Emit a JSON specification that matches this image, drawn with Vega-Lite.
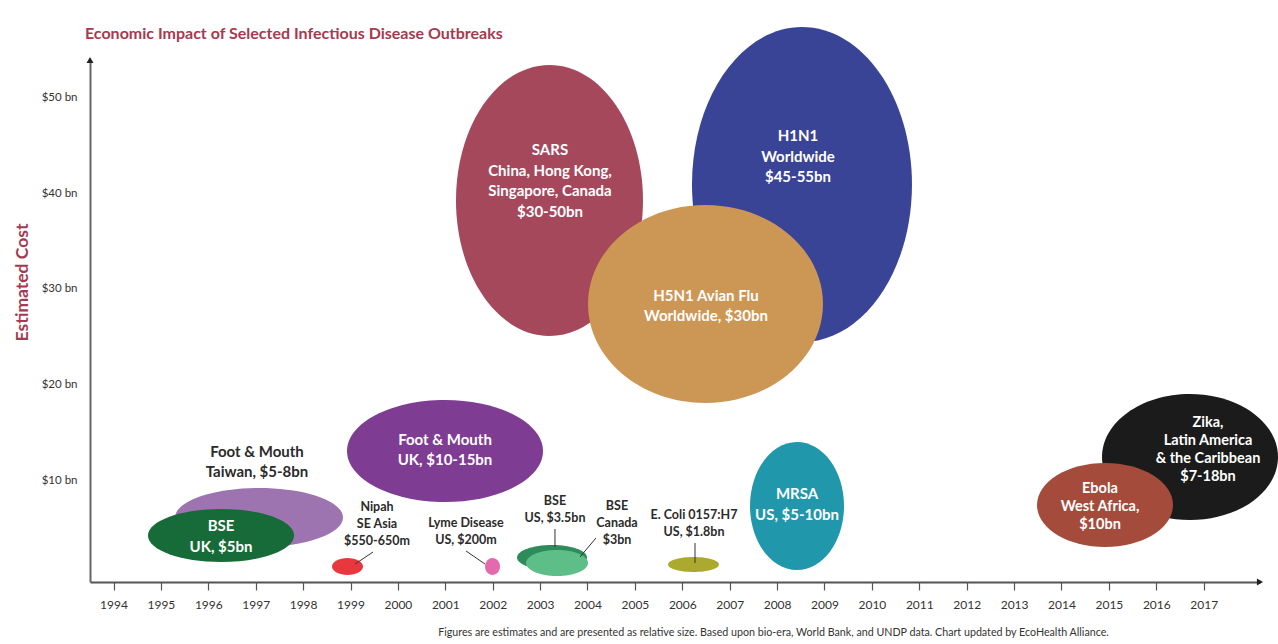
{
  "$schema": "https://vega.github.io/schema/vega-lite/v6.json",
  "width": 1170,
  "height": 522,
  "autosize": {"type": "none"},
  "padding": {"left": 90, "top": 60, "right": 18, "bottom": 62},
  "background": "white",
  "title": {
    "text": "Economic Impact of Selected Infectious Disease Outbreaks",
    "anchor": "start",
    "frame": "group",
    "font": "Lato",
    "fontSize": 16,
    "fontWeight": "bold",
    "color": "#A53A50",
    "offset": -15,
    "dx": -5
  },
  "config": {"view": {"stroke": null}, "font": "Lato"},
  "datasets": {
    "outbreaks": [
      {"outbreak": "Foot & Mouth Taiwan", "year": 1997.07, "cost": 6.07, "label": "Foot & Mouth\nTaiwan, $5-8bn", "label_year": 1997.027, "label_cost": 12.93},
      {"outbreak": "BSE UK", "year": 1996.268, "cost": 4.19, "label": "BSE\nUK, $5bn", "label_year": 1996.268, "label_cost": 5.18},
      {"outbreak": "Foot & Mouth UK", "year": 2000.994, "cost": 13.04, "label": "Foot & Mouth\nUK, $10-15bn", "label_year": 2000.994, "label_cost": 14.19},
      {"outbreak": "Nipah", "year": 1998.937, "cost": 0.94, "label": "Nipah\nSE Asia\n$550-650m", "label_year": 1999.559, "label_cost": 7.17},
      {"outbreak": "Lyme Disease", "year": 2001.996, "cost": 0.94, "label": "Lyme Disease\nUS, $200m", "label_year": 2001.437, "label_cost": 5.5},
      {"outbreak": "BSE US", "year": 2003.251, "cost": 1.88, "label": "BSE\nUS, $3.5bn", "label_year": 2003.314, "label_cost": 7.8},
      {"outbreak": "BSE Canada", "year": 2003.357, "cost": 1.31, "label": "BSE\nCanada\n$3bn", "label_year": 2004.622, "label_cost": 7.28},
      {"outbreak": "E. Coli 0157:H7", "year": 2006.236, "cost": 1.15, "label": "E. Coli 0157:H7\nUS, $1.8bn", "label_year": 2006.247, "label_cost": 6.34},
      {"outbreak": "SARS", "year": 2003.198, "cost": 39.27, "label": "SARS\nChina, Hong Kong,\nSingapore, Canada\n$30-50bn", "label_year": 2003.209, "label_cost": 44.55},
      {"outbreak": "H1N1", "year": 2008.525, "cost": 40.94, "label": "H1N1\nWorldwide\n$45-55bn", "label_year": 2008.441, "label_cost": 46.02},
      {"outbreak": "H5N1 Avian Flu", "year": 2006.489, "cost": 28.43, "label": "H5N1 Avian Flu\nWorldwide, $30bn", "label_year": 2006.5, "label_cost": 29.27},
      {"outbreak": "MRSA", "year": 2008.42, "cost": 7.28, "label": "MRSA\nUS, $5-10bn", "label_year": 2008.42, "label_cost": 8.53},
      {"outbreak": "Zika", "year": 2016.711, "cost": 12.41, "label": "Zika,\nLatin America\n& the Caribbean\n$7-18bn", "label_year": 2017.091, "label_cost": 15.97},
      {"outbreak": "Ebola", "year": 2014.918, "cost": 7.38, "label": "Ebola\nWest Africa,\n$10bn", "label_year": 2014.812, "label_cost": 9.06}
    ],
    "leaders": [
      {"outbreak": "Nipah", "year": 1999.475, "cost": 2.46, "year_end": 1999.095, "cost_end": 1.2},
      {"outbreak": "Lyme Disease", "year": 2001.437, "cost": 2.57, "year_end": 2001.838, "cost_end": 1.2},
      {"outbreak": "BSE US", "year": 2003.314, "cost": 4.87, "year_end": 2003.314, "cost_end": 2.98},
      {"outbreak": "BSE Canada", "year": 2004.179, "cost": 3.93, "year_end": 2003.842, "cost_end": 1.94},
      {"outbreak": "E. Coli 0157:H7", "year": 2006.268, "cost": 3.4, "year_end": 2006.268, "cost_end": 1.31}
    ],
    "axis_ends": [
      {"end": "cost", "year": 1993.5042, "cost": 53.979},
      {"end": "year", "year": 2018.1878, "cost": -0.6806}
    ]
  },
  "layer": [
    {
      "data": {"name": "outbreaks"},
      "mark": {"type": "point", "filled": true, "opacity": 1, "size": 40000, "strokeWidth": 0},
      "encoding": {
        "x": {
          "field": "year",
          "type": "quantitative",
          "scale": {"domain": [1993.5042, 2018.1878], "nice": false, "zero": false},
          "axis": {
            "values": [1994, 1995, 1996, 1997, 1998, 1999, 2000, 2001, 2002, 2003, 2004, 2005, 2006, 2007, 2008, 2009, 2010, 2011, 2012, 2013, 2014, 2015, 2016, 2017],
            "format": "d",
            "grid": false,
            "domainColor": "#555555",
            "domainWidth": 2,
            "tickColor": "#555555",
            "tickSize": 8,
            "tickWidth": 1.2,
            "labelFont": "Lato",
            "labelFontSize": 12,
            "labelColor": "#333333",
            "labelPadding": 9,
            "title": "Figures are estimates and are presented as relative size. Based upon bio-era, World Bank, and UNDP data. Chart updated by EcoHealth Alliance.",
            "titleFont": "Lato",
            "titleFontSize": 10.7,
            "titleFontWeight": "normal",
            "titleColor": "#333333",
            "titlePadding": 17,
            "titleX": 683,
            "titleAlign": "center"
          }
        },
        "y": {
          "field": "cost",
          "type": "quantitative",
          "scale": {"domain": [-0.6806, 53.979], "nice": false, "zero": false},
          "axis": {
            "values": [10, 20, 30, 40, 50],
            "labelExpr": "'$' + datum.value + ' bn'",
            "grid": false,
            "ticks": false,
            "tickSize": 0,
            "domainColor": "#666666",
            "domainWidth": 2,
            "labelFont": "Lato",
            "labelFontSize": 11.5,
            "labelColor": "#333333",
            "labelPadding": 13,
            "title": "Estimated Cost",
            "titleFont": "Lato",
            "titleFontSize": 17.5,
            "titleFontWeight": "bold",
            "titleColor": "#A53A50",
            "titleX": -68,
            "titleY": 222,
            "titleAlign": "center",
            "titleBaseline": "middle"
          }
        },
        "color": {
          "field": "outbreak",
          "type": "nominal",
          "legend": null,
          "scale": {
            "domain": ["SARS", "H1N1", "H5N1 Avian Flu", "Foot & Mouth UK", "Foot & Mouth Taiwan", "BSE UK", "Nipah", "Lyme Disease", "BSE US", "BSE Canada", "E. Coli 0157:H7", "MRSA", "Zika", "Ebola"],
            "range": ["#A6485C", "#3A4497", "#CC9655", "#7E3C93", "#9D73B0", "#166B38", "#E8383E", "#E46AAE", "#2E8B5A", "#5EBE88", "#ACAA2E", "#2097AB", "#1B1B1B", "#A44B3B"]
          }
        },
        "shape": {
          "field": "outbreak",
          "type": "nominal",
          "legend": null,
          "scale": {
            "domain": ["SARS", "H1N1", "H5N1 Avian Flu", "Foot & Mouth UK", "Foot & Mouth Taiwan", "BSE UK", "Nipah", "Lyme Disease", "BSE US", "BSE Canada", "E. Coli 0157:H7", "MRSA", "Zika", "Ebola"],
            "range": [
              "M-0.935,0A0.935,1.355,0,1,0,0.935,0A0.935,1.355,0,1,0,-0.935,0Z",
              "M-1.1,0A1.1,1.575,0,1,0,1.1,0A1.1,1.575,0,1,0,-1.1,0Z",
              "M-1.175,0A1.175,0.99,0,1,0,1.175,0A1.175,0.99,0,1,0,-1.175,0Z",
              "M-0.98,0A0.98,0.51,0,1,0,0.98,0A0.98,0.51,0,1,0,-0.98,0Z",
              "M-0.84,0A0.84,0.295,0,1,0,0.84,0A0.84,0.295,0,1,0,-0.84,0Z",
              "M-0.73,0A0.73,0.265,0,1,0,0.73,0A0.73,0.265,0,1,0,-0.73,0Z",
              "M-0.155,0A0.155,0.085,0,1,0,0.155,0A0.155,0.085,0,1,0,-0.155,0Z",
              "M-0.075,0A0.075,0.085,0,1,0,0.075,0A0.075,0.085,0,1,0,-0.075,0Z",
              "M-0.35,0A0.35,0.125,0,1,0,0.35,0A0.35,0.125,0,1,0,-0.35,0Z",
              "M-0.31,0A0.31,0.13,0,1,0,0.31,0A0.31,0.13,0,1,0,-0.31,0Z",
              "M-0.255,0A0.255,0.075,0,1,0,0.255,0A0.255,0.075,0,1,0,-0.255,0Z",
              "M-0.47,0A0.47,0.64,0,1,0,0.47,0A0.47,0.64,0,1,0,-0.47,0Z",
              "M-0.88,0A0.88,0.63,0,1,0,0.88,0A0.88,0.63,0,1,0,-0.88,0Z",
              "M-0.68,0A0.68,0.42,0,1,0,0.68,0A0.68,0.42,0,1,0,-0.68,0Z"
            ]
          }
        }
      }
    },
    {
      "data": {"name": "leaders"},
      "mark": {"type": "rule", "color": "#333333", "strokeWidth": 1},
      "encoding": {
        "x": {"field": "year", "type": "quantitative"},
        "y": {"field": "cost", "type": "quantitative"},
        "x2": {"field": "year_end"},
        "y2": {"field": "cost_end"}
      }
    },
    {
      "data": {"name": "outbreaks"},
      "transform": [{"filter": {"field": "outbreak", "oneOf": ["SARS", "H1N1", "H5N1 Avian Flu", "Foot & Mouth UK", "BSE UK", "MRSA"]}}],
      "mark": {"type": "text", "font": "Lato", "fontWeight": "bold", "fontSize": 15, "lineHeight": 20.5, "lineBreak": "\n", "color": "#FFFFFF", "align": "center", "baseline": "middle"},
      "encoding": {
        "x": {"field": "label_year", "type": "quantitative"},
        "y": {"field": "label_cost", "type": "quantitative"},
        "text": {"field": "label"}
      }
    },
    {
      "data": {"name": "outbreaks"},
      "transform": [{"filter": {"field": "outbreak", "oneOf": ["Zika", "Ebola"]}}],
      "mark": {"type": "text", "font": "Lato", "fontWeight": "bold", "fontSize": 14.5, "lineHeight": 18, "lineBreak": "\n", "color": "#FFFFFF", "align": "center", "baseline": "middle"},
      "encoding": {
        "x": {"field": "label_year", "type": "quantitative"},
        "y": {"field": "label_cost", "type": "quantitative"},
        "text": {"field": "label"}
      }
    },
    {
      "data": {"name": "outbreaks"},
      "transform": [{"filter": {"field": "outbreak", "oneOf": ["Foot & Mouth Taiwan"]}}],
      "mark": {"type": "text", "font": "Lato", "fontWeight": "bold", "fontSize": 15, "lineHeight": 20, "lineBreak": "\n", "color": "#2B2B2B", "align": "center", "baseline": "middle"},
      "encoding": {
        "x": {"field": "label_year", "type": "quantitative"},
        "y": {"field": "label_cost", "type": "quantitative"},
        "text": {"field": "label"}
      }
    },
    {
      "data": {"name": "outbreaks"},
      "transform": [{"filter": {"field": "outbreak", "oneOf": ["Nipah", "Lyme Disease", "BSE US", "BSE Canada", "E. Coli 0157:H7"]}}],
      "mark": {"type": "text", "font": "Lato", "fontWeight": "bold", "fontSize": 12.5, "lineHeight": 17, "lineBreak": "\n", "color": "#2B2B2B", "align": "center", "baseline": "middle"},
      "encoding": {
        "x": {"field": "label_year", "type": "quantitative"},
        "y": {"field": "label_cost", "type": "quantitative"},
        "text": {"field": "label"}
      }
    },
    {
      "data": {"name": "axis_ends"},
      "transform": [{"filter": "datum.end === 'cost'"}],
      "mark": {"type": "point", "shape": "triangle-up", "filled": true, "opacity": 1, "size": 50, "color": "#222222"},
      "encoding": {
        "x": {"field": "year", "type": "quantitative"},
        "y": {"field": "cost", "type": "quantitative"}
      }
    },
    {
      "data": {"name": "axis_ends"},
      "transform": [{"filter": "datum.end === 'year'"}],
      "mark": {"type": "point", "shape": "triangle-right", "filled": true, "opacity": 1, "size": 50, "color": "#222222"},
      "encoding": {
        "x": {"field": "year", "type": "quantitative"},
        "y": {"field": "cost", "type": "quantitative"}
      }
    }
  ]
}
